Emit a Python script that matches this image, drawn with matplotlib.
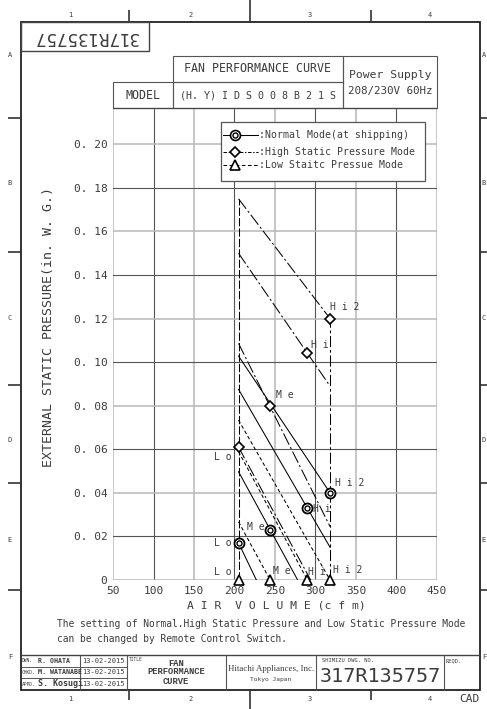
import matplotlib
matplotlib.use('Agg')
import matplotlib.pyplot as plt
from matplotlib.patches import Rectangle

plt.rcParams['lines.scale_dashes'] = False
MONO = 'DejaVu Sans Mono'
INK = '#3c3c3c'

W, H = 487, 709

# ---------------- data (air volume cfm, ESP in. W.G.) ----------------
taps = ['Lo', 'Me', 'Hi', 'Hi2']
tap_labels = ['L o', 'M e', 'H i', 'H i 2']
tap_flow = [205, 244, 290, 318]
normal_esp = [0.017, 0.023, 0.033, 0.040]
high_esp = [0.061, 0.080, 0.104, 0.120]
low_esp = [0.0, 0.0, 0.0, 0.0]

# fan curves per tap: [start, end] pairs
normal_cx = [[205, 227], [205, 278], [205, 318], [205, 318]]
normal_cy = [[0.017, 0.0], [0.0497, 0.0], [0.0875, 0.015], [0.1028, 0.040]]
high_cx = [[205, 294], [205, 318], [205, 318], [205, 318]]
high_cy = [[0.061, 0.0], [0.1086, 0.0245], [0.150, 0.089], [0.175, 0.120]]
low_cx = [[205, 244], [205, 290], [205, 318]]
low_cy = [[0.0267, 0.0], [0.059, 0.0], [0.0734, 0.0]]

min_flow_line = ([205, 205], [0.0, 0.175])
max_flow_line = ([318, 318], [0.0, 0.120])

x_ticks = [50, 100, 150, 200, 250, 300, 350, 400, 450]
y_ticks = [0.0, 0.02, 0.04, 0.06, 0.08, 0.10, 0.12, 0.14, 0.16, 0.18, 0.20]
y_ticklabels = ['0', '0. 02', '0. 04', '0. 06', '0. 08', '0. 10', '0. 12',
                '0. 14', '0. 16', '0. 18', '0. 20']

# label offsets in pixels (dx, dy, ha) for each tap
normal_off = [(-7, 0, 'right'), (-6, 3, 'right'), (6, -1, 'left'), (5, 10, 'left')]
high_off = [(-7, -10, 'right'), (6, 11, 'left'), (4, 8, 'left'), (0, 12, 'left')]
low_off = [(-7, 8, 'right'), (3, 9, 'left'), (1, 8, 'left'), (3, 10, 'left')]

DASHDOT = (0, (9, 2, 1.5, 2))
DASHED = (0, (2.6, 1.8))

fig = plt.figure(figsize=(W / 100, H / 100), dpi=100)
fig.patch.set_facecolor('white')

# ---------------- chart ----------------
ax = fig.add_axes([113 / W, 1 - 580 / H, (437 - 113) / W, (580 - 108) / H])
ax.set_xlim(50, 450)
ax.set_ylim(0, 0.2167)
for s in ax.spines.values():
    s.set_visible(False)

for i, x in enumerate(x_ticks):
    light = i % 2 == 0
    ax.axvline(x, color='#b8b8b8' if light else '#555555', lw=1.1 if light else 0.8, zorder=1)
for i, y in enumerate(y_ticks):
    light = i % 2 == 0
    ax.axhline(y, color='#b8b8b8' if light else '#555555', lw=1.1 if light else 0.8, zorder=1)

ax.set_xticks(x_ticks)
ax.set_xticklabels([str(v) for v in x_ticks], fontfamily=MONO, fontsize=8, color=INK)
ax.set_yticks(y_ticks)
ax.set_yticklabels(y_ticklabels, fontfamily=MONO, fontsize=8, color=INK)
ax.tick_params(length=0, pad=4)

ax.plot(*min_flow_line, color='black', lw=0.75, ls=(0, (6, 1.5)), zorder=3)
ax.plot(*max_flow_line, color='black', lw=0.75, ls=(0, (8, 2, 2, 2)), zorder=3)

for cx, cy in zip(normal_cx, normal_cy):
    ax.plot(cx, cy, color='black', lw=0.75, zorder=3)
for cx, cy in zip(high_cx, high_cy):
    ax.plot(cx, cy, color='black', lw=0.75, ls=DASHDOT, zorder=3)
for cx, cy in zip(low_cx, low_cy):
    ax.plot(cx, cy, color='black', lw=0.75, ls=DASHED, zorder=3)

# markers
ax.plot(tap_flow, normal_esp, ls='none', marker='o', ms=7.2, mfc='white', mec='black', mew=1.3, zorder=5)
ax.plot(tap_flow, normal_esp, ls='none', marker='o', ms=3.6, mfc='none', mec='black', mew=1.0, zorder=6)
ax.plot(tap_flow, high_esp, ls='none', marker='D', ms=5.6, mfc='white', mec='black', mew=1.2, zorder=5)
ax.plot(tap_flow, low_esp, ls='none', marker='^', ms=7, mfc='white', mec='black', mew=1.2,
        zorder=5, clip_on=False)

for esp, offs in ((normal_esp, normal_off), (high_esp, high_off), (low_esp, low_off)):
    for f, p, lab, (dx, dy, ha) in zip(tap_flow, esp, tap_labels, offs):
        ax.annotate(lab, (f, p), xytext=(dx, dy), textcoords='offset pixels',
                    ha=ha, va='center', fontfamily=MONO, fontsize=7, color=INK, zorder=7)

# ---------------- drawing sheet overlay (pixel coordinates) ----------------
bg = fig.add_axes([0, 0, 1, 1], zorder=10)
bg.set_xlim(0, W)
bg.set_ylim(H, 0)
bg.axis('off')
bg.patch.set_visible(False)

def box(x0, y0, x1, y1, lw=0.8, ec='#555555', fc='none', z=1):
    bg.add_patch(Rectangle((x0, y0), x1 - x0, y1 - y0, fill=fc != 'none', fc=fc, ec=ec, lw=lw, zorder=z))

def line(xs, ys, lw=0.8, c='#555555'):
    bg.plot(xs, ys, color=c, lw=lw, solid_capstyle='butt')

def txt(x, y, s, size, ha='center', family=MONO, **kw):
    bg.text(x, y, s, fontsize=size, ha=ha, va='center', family=family, color=INK, **kw)

# outer frame and zone marks
box(21, 22, 480, 690, lw=1.3, ec='#222222')
for x in (129, 371):
    line([x, x], [10, 22], lw=1.2, c='#333333')
    line([x, x], [690, 700], lw=1.2, c='#333333')
line([250, 250], [0, 22], lw=1.2, c='#333333')
line([250, 250], [690, 709], lw=1.2, c='#333333')
for y in (118, 252, 385, 483, 590):
    line([8, 21], [y, y], lw=1.2, c='#333333')
    line([480, 487], [y, y], lw=1.2, c='#333333')
for x, n in zip((70, 191, 310, 430), '1234'):
    txt(x, 15, n, 5)
    txt(x, 699, n, 5)
for y, ch in zip((55, 183, 318, 440, 540, 657), 'ABCDEF'):
    txt(10, y, ch, 5)
    txt(484, y, ch, 5)

# mirrored drawing number box
box(21, 22, 149, 51, lw=1.0, ec='#444444')
txt(85, 36.5, '317R135757', 12.5, rotation=180)

# header table
box(173, 56, 343, 82)
box(173, 82, 343, 108)
box(113, 82, 173, 108)
box(343, 56, 437, 108)
line([113, 437], [108, 108], lw=0.9, c='#444444')
txt(258, 69, 'FAN PERFORMANCE CURVE', 8.4)
txt(143, 95.5, 'MODEL', 8.4)
txt(258, 95.5, '(H. Y) I D S 0 0 8 B 2 1 S', 7.2)
txt(390, 75, 'Power Supply', 8.2)
txt(390, 91, '208/230V 60Hz', 7.8)

# legend
box(220.7, 121.7, 425, 181, lw=0.9, ec='#555555', fc='white', z=2)
leg_rows = [(135, '-', 'o', ':Normal Mode(at shipping)'),
            (152, (0, (2.5, 1.2, 1, 1.2)), 'D', ':High Static Pressure Mode'),
            (165, DASHED, '^', ':Low Staitc Pressue Mode')]
for y, ls, mk, label in leg_rows:
    bg.plot([223, 258], [y, y], color='black', lw=0.75, ls=ls, zorder=3)
    ms = {'o': 7.2, 'D': 5.6, '^': 7}[mk]
    bg.plot([235], [y], marker=mk, ms=ms, mfc='white', mec='black', mew=1.2, zorder=4)
    if mk == 'o':
        bg.plot([235], [y], marker='o', ms=3.6, mfc='none', mec='black', mew=1.0, zorder=5)
    txt(259, y, label, 7.1, ha='left')

# axis titles and note
txt(276, 605, 'A I R  V O L U M E (c f m)', 8.2)
txt(49, 327, 'EXTERNAL STATIC PRESSURE(in. W. G.)', 9.5, rotation=90)
txt(57, 624, 'The setting of Normal.High Static Pressure and Low Static Pressure Mode', 6.9, ha='left')
txt(57, 639, 'can be changed by Remote Control Switch.', 6.9, ha='left')

# title block
line([21, 480], [655, 655], lw=1.0, c='#444444')
for x in (80, 127, 226, 316, 444):
    line([x, x], [655, 690], lw=0.8)
line([21, 127], [667, 667], lw=0.7)
line([21, 127], [678, 678], lw=0.7)
for y, role, name, size in ((661, 'DWN.', 'R. OHATA', 4.8), (672.5, 'CHKD.', 'M. WATANABE', 4.8),
                            (684, 'APPD.', 'S. Kosugi', 6)):
    txt(22, y, role, 3.3, ha='left')
    txt(38, y, name, size, ha='left', fontweight='bold')
    txt(103.5, y, '13-02-2015', 5)
txt(129, 659.5, 'TITLE', 3.3, ha='left')
txt(176, 663, 'FAN', 6.3, family='Liberation Mono', fontweight='bold')
txt(176, 672, 'PERFORMANCE', 6.3, family='Liberation Mono', fontweight='bold')
txt(176, 681, 'CURVE', 6.3, family='Liberation Mono', fontweight='bold')
txt(271, 669, 'Hitachi Appliances, Inc.', 6.4, family='Liberation Serif')
txt(271, 680, 'Tokyo Japan', 4.5)
txt(322, 661, 'SHIMIZU DWG. NO.', 3.9, ha='left')
txt(380, 677, '317R135757', 14.5)
txt(446, 661, 'REQD.', 3.9, ha='left')
txt(469, 699, 'CAD', 8)

fig.savefig('out.png', dpi=100, facecolor='white')
